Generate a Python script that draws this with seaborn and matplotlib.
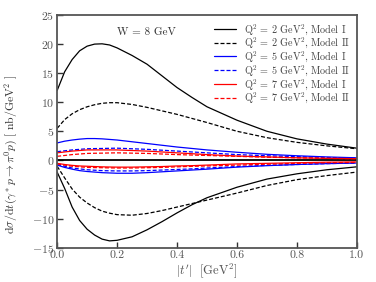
import matplotlib
matplotlib.use("Agg")
import matplotlib.pyplot as plt
import seaborn as sns

# |t'| grid
t_vals = [0.0, 0.025, 0.05, 0.075, 0.1, 0.125, 0.15, 0.175, 0.2, 0.25, 0.3, 0.35,
          0.4, 0.45, 0.5, 0.6, 0.7, 0.8, 0.9, 1.0]

# Q^2 = 2 GeV^2 (black)
q2_m1_pos = [12.0, 15.2, 17.3, 18.8, 19.6, 19.95, 20.0, 19.8, 19.3, 18.0, 16.5, 14.5,
             12.5, 10.8, 9.2, 6.9, 5.0, 3.7, 2.8, 2.1]
q2_m1_neg = [-2.0, -4.8, -8.0, -10.3, -11.8, -12.8, -13.5, -13.8, -13.7, -13.1, -11.9, -10.5,
             -9.0, -7.6, -6.4, -4.6, -3.2, -2.3, -1.6, -1.1]
q2_m2_pos = [5.5, 7.0, 8.0, 8.7, 9.2, 9.55, 9.8, 9.9, 9.9, 9.6, 9.1, 8.5,
             7.9, 7.2, 6.5, 5.0, 3.9, 3.1, 2.5, 2.0]
q2_m2_neg = [-1.0, -3.0, -4.9, -6.3, -7.3, -8.1, -8.7, -9.05, -9.3, -9.4, -9.1, -8.6,
             -8.0, -7.4, -6.8, -5.6, -4.3, -3.3, -2.6, -2.0]

# Q^2 = 5 GeV^2 (blue)
q5_m1_pos = [3.0, 3.3, 3.5, 3.65, 3.75, 3.75, 3.7, 3.6, 3.5, 3.2, 2.9, 2.6,
             2.3, 2.05, 1.8, 1.4, 1.05, 0.8, 0.6, 0.45]
q5_m1_neg = [-0.8, -1.2, -1.5, -1.75, -1.9, -2.0, -2.1, -2.15, -2.2, -2.2, -2.1, -1.95,
             -1.8, -1.65, -1.5, -1.15, -0.9, -0.7, -0.55, -0.45]
q5_m2_pos = [1.5, 1.65, 1.8, 1.9, 2.0, 2.03, 2.05, 2.08, 2.1, 2.0, 1.9, 1.75,
             1.6, 1.45, 1.3, 1.0, 0.8, 0.65, 0.5, 0.4]
q5_m2_neg = [-0.7, -1.0, -1.3, -1.45, -1.6, -1.68, -1.75, -1.78, -1.8, -1.8, -1.75, -1.65,
             -1.55, -1.45, -1.3, -1.05, -0.85, -0.7, -0.55, -0.45]

# Q^2 = 7 GeV^2 (red)
q7_m1_pos = [1.3, 1.45, 1.6, 1.7, 1.8, 1.8, 1.8, 1.8, 1.8, 1.7, 1.6, 1.45,
             1.3, 1.15, 1.0, 0.75, 0.6, 0.45, 0.35, 0.3]
q7_m1_neg = [-0.5, -0.7, -0.85, -0.95, -1.0, -1.05, -1.1, -1.13, -1.15, -1.15, -1.1, -1.05,
             -0.95, -0.9, -0.8, -0.6, -0.5, -0.4, -0.3, -0.25]
q7_m2_pos = [0.7, 0.85, 1.0, 1.1, 1.2, 1.23, 1.25, 1.28, 1.3, 1.25, 1.2, 1.1,
             1.0, 0.92, 0.85, 0.7, 0.55, 0.45, 0.35, 0.3]
q7_m2_neg = [-0.6, -0.8, -1.0, -1.1, -1.2, -1.23, -1.25, -1.28, -1.3, -1.3, -1.25, -1.2,
             -1.1, -1.02, -0.95, -0.8, -0.65, -0.5, -0.4, -0.35]

labels = [r"Q$^2$ = 2 GeV$^2$, Model I", r"Q$^2$ = 2 GeV$^2$, Model II",
          r"Q$^2$ = 5 GeV$^2$, Model I", r"Q$^2$ = 5 GeV$^2$, Model II",
          r"Q$^2$ = 7 GeV$^2$, Model I", r"Q$^2$ = 7 GeV$^2$, Model II"]

series = [
    (q2_m1_pos, q2_m1_neg, "black", "-"),
    (q2_m2_pos, q2_m2_neg, "black", "--"),
    (q5_m1_pos, q5_m1_neg, "blue", "-"),
    (q5_m2_pos, q5_m2_neg, "blue", "--"),
    (q7_m1_pos, q7_m1_neg, "red", "-"),
    (q7_m2_pos, q7_m2_neg, "red", "--"),
]

sns.set_style("ticks")
plt.rcParams["font.family"] = "serif"
plt.rcParams["font.serif"] = ["cmr10", "DejaVu Serif"]
plt.rcParams["mathtext.fontset"] = "cm"
plt.rcParams["axes.formatter.use_mathtext"] = True

fig = plt.figure(figsize=(3.76, 2.82), dpi=100)
ax = fig.add_axes([0.152, 0.121, 0.797, 0.827])

# zero line
sns.lineplot(x=[0.0, 1.0], y=[0.0, 0.0], ax=ax, color="black", linewidth=1.3,
             legend=False)

for (pos, neg, color, ls), lab in zip(series, labels):
    sns.lineplot(x=t_vals, y=pos, ax=ax, color=color, linewidth=0.9, label=lab,
                 linestyle=ls)
    sns.lineplot(x=t_vals, y=neg, ax=ax, color=color, linewidth=0.9,
                 linestyle=ls, legend=False)

for line in ax.get_lines():
    if line.get_linestyle() == "--":
        line.set_dashes((3.2, 1.6))

ax.set_xlim(0, 1)
ax.set_ylim(-15, 25)
ax.set_xticks([0.0, 0.2, 0.4, 0.6, 0.8, 1.0])
ax.set_xticklabels(["0.0", "0.2", "0.4", "0.6", "0.8", "1.0"])
ax.set_yticks([-15, -10, -5, 0, 5, 10, 15, 20, 25])
ax.tick_params(direction="in", length=4, width=1.0, labelsize=8.5,
               colors="#333333", labelcolor="#555555", pad=2)
for sp in ax.spines.values():
    sp.set_linewidth(1.3)
    sp.set_color("#555555")

ax.set_xlabel(r"$|t^\prime|\ \ [\mathrm{GeV}^2]$", fontsize=9, color="#555555",
              labelpad=1)
ax.set_ylabel(r"$\mathrm{d}\sigma/\mathrm{d}t(\gamma^* p \rightarrow \pi^0 p)\ [\ \mathrm{nb/GeV}^2\ ]$",
              fontsize=8.5, color="#333333")
ax.yaxis.set_label_coords(-0.125, 0.40)

ax.text(0.2, 0.925, r"W = 8 GeV", transform=ax.transAxes, fontsize=8,
        color="#333333", ha="left", va="center")

leg = ax.legend(loc="upper right", frameon=False, fontsize=7.3, handlelength=2.2,
                handletextpad=0.7, labelspacing=-0.1, borderaxespad=0.3)
for txt in leg.get_texts():
    txt.set_color("#444444")

fig.savefig("out.png", dpi=100)
